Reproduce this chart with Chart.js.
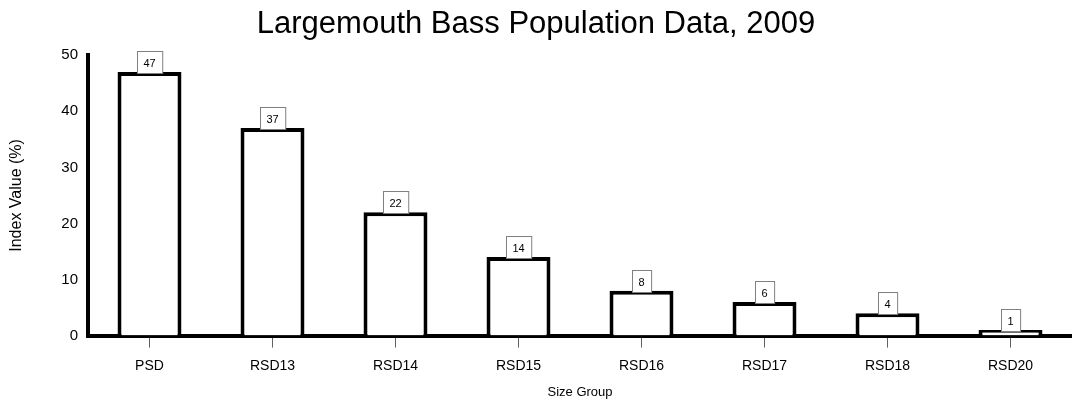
<!DOCTYPE html>
<html>
<head>
<meta charset="utf-8">
<script src="https://cdn.jsdelivr.net/npm/chart.js@4"></script>
<style>
    html, body { margin: 0; padding: 0; background: #fff; }
    #wrap { width: 1072px; height: 402px; }
</style>
</head>
<body>
<div id="wrap"><canvas id="bassChart" width="1072" height="402"></canvas></div>
<script>
const sizeGroups = ['PSD', 'RSD13', 'RSD14', 'RSD15', 'RSD16', 'RSD17', 'RSD18', 'RSD20'];
const indexValues = [47, 37, 22, 14, 8, 6, 4, 1];
const yTicks = [0, 10, 20, 30, 40, 50];

const FONT = 'Arial, "Liberation Sans", sans-serif';

// draws the little value boxes sitting on top of each bar
const valueBoxes = {
    id: 'valueBoxes',
    afterDatasetsDraw(chart) {
        const ctx = chart.ctx;
        const meta = chart.getDatasetMeta(0);
        ctx.save();
        ctx.font = '11px ' + FONT;
        meta.data.forEach((bar, i) => {
            const txt = String(chart.data.datasets[0].data[i]);
            const w = Math.max(ctx.measureText(txt).width + 13, 19);
            const h = 22;
            const x = Math.round(bar.x - w / 2) + 0.5;
            const y = Math.round(bar.y - h + 1) + 0.5;
            ctx.fillStyle = '#fff';
            ctx.fillRect(x, y, w, h);
            ctx.strokeStyle = '#808080';
            ctx.lineWidth = 1;
            ctx.strokeRect(x, y, w, h);
            ctx.fillStyle = '#000';
            ctx.textAlign = 'center';
            ctx.textBaseline = 'middle';
            ctx.fillText(txt, bar.x, y + h / 2 + 1);
        });
        ctx.restore();
    }
};

const ctx = document.getElementById('bassChart').getContext('2d');
new Chart(ctx, {
    type: 'bar',
    data: {
        labels: sizeGroups,
        datasets: [{
            data: indexValues,
            backgroundColor: '#fff',
            borderColor: '#000',
            borderWidth: 4,
            borderSkipped: 'bottom',
            categoryPercentage: 1,
            barPercentage: 0.52
        }]
    },
    options: {
        responsive: false,
        animation: false,
        layout: { padding: { left: 0, right: 0, top: 0, bottom: 2 } },
        plugins: {
            legend: { display: false },
            tooltip: { enabled: false },
            title: {
                display: true,
                text: 'Largemouth Bass Population Data, 2009',
                color: '#000',
                font: { family: FONT, size: 31, weight: 'normal' },
                padding: { top: 6, bottom: 12 }
            }
        },
        scales: {
            x: {
                offset: true,
                border: { display: true, color: '#000', width: 4 },
                grid: {
                    display: true,
                    offset: false,
                    drawOnChartArea: false,
                    drawTicks: true,
                    tickLength: 12,
                    color: '#606060',
                    lineWidth: 1
                },
                ticks: {
                    color: '#000',
                    font: { family: FONT, size: 14 },
                    padding: 10
                },
                title: {
                    display: true,
                    text: 'Size Group',
                    color: '#000',
                    font: { family: FONT, size: 13 },
                    padding: { top: 0, bottom: 0 }
                }
            },
            y: {
                min: 0,
                max: 50,
                afterBuildTicks: s => { s.ticks = yTicks.map(v => ({ value: v })); },
                afterFit: s => { s.width = 88; },
                border: { display: true, color: '#000', width: 4 },
                grid: { display: false, drawTicks: false },
                ticks: {
                    color: '#000',
                    font: { family: FONT, size: 15 },
                    padding: 10
                },
                title: {
                    display: true,
                    text: 'Index Value (%)',
                    color: '#000',
                    font: { family: FONT, size: 16 },
                    padding: { top: 7, bottom: 0 }
                }
            }
        }
    },
    plugins: [valueBoxes]
});
</script>
</body>
</html>
